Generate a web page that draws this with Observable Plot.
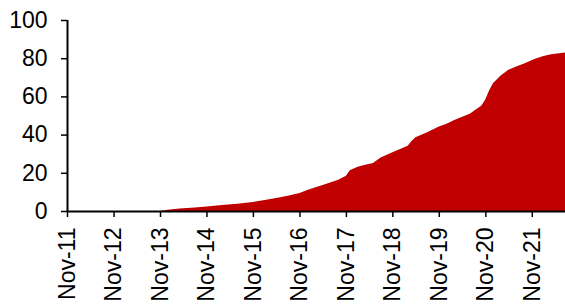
<!DOCTYPE html>
<html>
<head>
<meta charset="utf-8">
<script src="https://cdn.jsdelivr.net/npm/d3@7"></script>
<script src="https://cdn.jsdelivr.net/npm/@observablehq/plot@0.6"></script>
<style>
  html, body { margin: 0; padding: 0; background: #fff; }
  #chart svg { display: block; }
</style>
</head>
<body>
<div id="chart"></div>
<script>
// Cumulative series
const months = [
  "2013-11-01","2014-01-01","2014-04-01","2014-08-01","2014-11-01",
  "2015-03-01","2015-07-01","2015-11-01","2016-02-01","2016-05-01",
  "2016-08-01","2016-11-01","2017-01-01","2017-03-01","2017-06-01",
  "2017-09-01","2017-11-01","2017-12-01","2018-02-01","2018-04-01",
  "2018-06-01","2018-08-01","2018-11-01","2019-01-01","2019-03-01",
  "2019-04-01","2019-05-01","2019-08-01","2019-11-01","2020-01-01",
  "2020-03-01","2020-07-01","2020-10-01","2020-11-01","2020-12-01",
  "2021-01-01","2021-03-01","2021-05-01","2021-07-01","2021-09-01",
  "2021-12-01","2022-02-01","2022-04-01","2022-07-20"
];
const values = [
  0, 0.6, 1.3, 1.8, 2.4,
  3.1, 3.8, 4.7, 5.7, 6.8,
  8.0, 9.4, 11.0, 12.3, 14.3,
  16.3, 18.5, 21.4, 23.2, 24.2,
  25.1, 28.0, 30.7, 32.5, 34.2,
  36.6, 38.6, 41.2, 44.2, 45.7,
  47.7, 50.9, 55.3, 58.5, 63.2,
  67.0, 71.0, 74.0, 75.6, 77.2,
  79.8, 81.2, 82.1, 83.0
];
const tickDates = ["2011-11-01","2012-11-01","2013-11-01","2014-11-01","2015-11-01",
  "2016-11-01","2017-11-01","2018-11-01","2019-11-01","2020-11-01","2021-11-01"];
const tickLabels = ["Nov-11","Nov-12","Nov-13","Nov-14","Nov-15","Nov-16",
  "Nov-17","Nov-18","Nov-19","Nov-20","Nov-21"];
const yTicks = [0, 20, 40, 60, 80, 100];

const data = months.map((m, i) => ({date: new Date(m), value: values[i]}));
const ticks = tickDates.map(d => new Date(d));
const xStart = new Date("2011-11-01");
const xEnd = new Date("2022-07-20");

const chart = Plot.plot({
  width: 565,
  height: 304,
  marginLeft: 67,
  marginRight: 0,
  marginTop: 20,
  marginBottom: 93,
  style: {fontFamily: "Liberation Sans, Arial, sans-serif", color: "#000", background: "#fff"},
  x: {type: "utc", domain: [xStart, xEnd], label: null},
  y: {domain: [0, 100], label: null},
  marks: [
    Plot.areaY(data, {x: "date", y: "value", fill: "#C00000", curve: "linear"}),
    Plot.ruleY([0], {x1: xStart, x2: xEnd, stroke: "#000", strokeWidth: 2}),
    Plot.ruleX([xStart], {y1: 0, y2: 100, stroke: "#000", strokeWidth: 2}),
    Plot.axisY({ticks: yTicks, tickSize: 6, tickPadding: 14, fontSize: 23, strokeWidth: 1.5, label: null}),
    Plot.axisX({ticks: ticks, tickFormat: (d) => tickLabels[ticks.findIndex(t => +t === +d)],
      tickSize: 6, tickPadding: 10, tickRotate: -90, fontSize: 23, strokeWidth: 1.5, label: null})
  ]
});
document.getElementById("chart").appendChild(chart);
</script>
</body>
</html>
